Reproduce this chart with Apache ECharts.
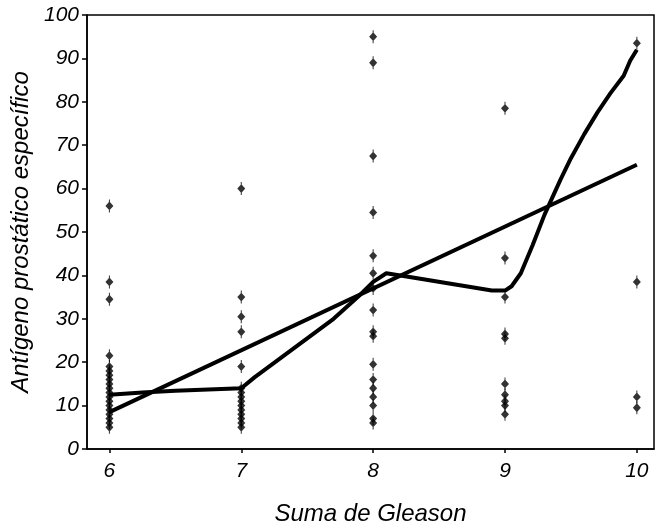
<!DOCTYPE html>
<html>
<head>
<meta charset="utf-8">
<script src="https://cdn.jsdelivr.net/npm/echarts@6/dist/echarts.min.js"></script>
<style>
  html, body { margin: 0; padding: 0; background: #fff; }
  #chart { width: 661px; height: 531px; }
</style>
</head>
<body>
<div id="chart"></div>
<script>
// Suma de Gleason vs PSA
const gleason6 = [56, 38.5, 34.5, 21.5, 19, 18, 17, 16, 15, 14, 13, 12, 11, 10, 9, 8, 7, 6, 5]
const gleason7 = [60, 35, 30.5, 27, 19, 14, 13, 12, 11, 10, 9, 8, 7, 6, 5]
const gleason8 = [95, 89, 67.5, 54.5, 44.5, 40.5, 37, 32, 27, 26, 19.5, 16, 14, 12, 10, 7, 6]
const gleason9 = [78.5, 44, 35, 26.5, 25.5, 15, 12.5, 11, 10, 8]
const gleason10 = [93.5, 38.5, 12, 9.5]

const xTicks = [6, 7, 8, 9, 10]

// linear fit (ends) and smoothed curve
const fitLine = [[6, 8.5], [10, 65.5]]
const smoothX = [6, 6.25, 6.5, 7, 7.1, 7.3, 7.5, 7.7, 7.9, 8, 8.1, 8.3, 8.6, 8.9, 9, 9.05, 9.12, 9.21, 9.3, 9.42, 9.5, 9.6, 9.7, 9.8, 9.9, 9.95, 10]
const smoothY = [12.5, 13, 13.4, 14, 16.5, 21, 25.5, 30, 35.5, 38.5, 40.5, 39.5, 38, 36.5, 36.5, 37.5, 40.5, 47, 54, 62, 67, 72.5, 77.5, 82, 86, 89.5, 92]

const groups = [
  [6, gleason6],
  [7, gleason7],
  [8, gleason8],
  [9, gleason9],
  [10, gleason10]
]

const points = []
groups.forEach(([g, vals]) => {
  vals.forEach((v) => points.push([g, v]))
})

const chart = echarts.init(document.getElementById('chart'))

const tickFont = {
  color: '#000',
  fontFamily: 'Liberation Sans, Arial, sans-serif',
  fontStyle: 'italic',
  fontSize: 21
}

const nameFont = {
  ...tickFont,
  fontSize: 24
}

chart.setOption({
  backgroundColor: '#fff',
  animation: false,
  grid: {
    left: 87,
    right: 7,
    top: 15,
    bottom: 78,
    show: true,
    borderColor: '#000',
    borderWidth: 1.5
  },
  xAxis: {
    type: 'value',
    min: 5.83,
    max: 10.13,
    name: 'Suma de Gleason',
    nameLocation: 'middle',
    nameGap: 53,
    nameTextStyle: nameFont,
    axisLine: { lineStyle: { color: '#000', width: 1.5 } },
    axisTick: {
      customValues: xTicks,
      length: 4,
      lineStyle: { color: '#000', width: 1.5 }
    },
    axisLabel: {
      customValues: xTicks,
      margin: 12,
      ...tickFont
    },
    splitLine: { show: false }
  },
  yAxis: {
    type: 'value',
    min: 0,
    max: 100,
    interval: 10,
    name: 'Antígeno prostático específico',
    nameLocation: 'middle',
    nameGap: 52,
    nameTextStyle: nameFont,
    axisLine: { lineStyle: { color: '#000', width: 1.5 } },
    axisTick: { length: 5, lineStyle: { color: '#000', width: 1.5 } },
    axisLabel: { margin: 8, ...tickFont },
    splitLine: { show: false }
  },
  series: [
    {
      type: 'scatter',
      data: points,
      symbol: 'path://M4.5,0 H5.5 V3 L9,7.5 L5.5,12 V15 H4.5 V12 L1,7.5 L4.5,3 Z',
      symbolSize: [8, 13],
      itemStyle: { color: '#000' },
      z: 3
    },
    {
      type: 'line',
      data: fitLine,
      symbol: 'none',
      lineStyle: { color: '#000', width: 4 },
      z: 2
    },
    {
      type: 'line',
      data: smoothX.map((x, i) => [x, smoothY[i]]),
      symbol: 'none',
      lineStyle: { color: '#000', width: 4, join: 'round' },
      z: 2
    }
  ]
})
</script>
</body>
</html>
